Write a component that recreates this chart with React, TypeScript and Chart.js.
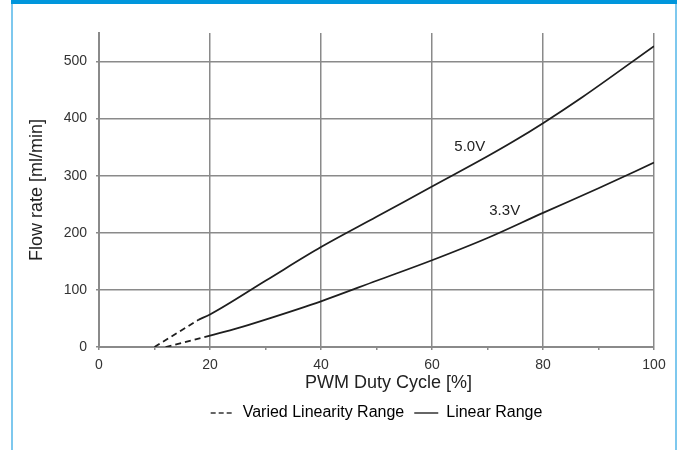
import React, { useEffect, useRef } from 'react';
import { Chart, registerables } from 'chart.js';

Chart.register(...registerables);

const FONT = '"Liberation Sans", Arial, Helvetica, sans-serif';
const GRID = '#8a8a8a';
const INK = '#1e1e1e';

// 5.0V supply
const dutyVaried50 = [10, 18];
const flowVaried50 = [0, 48];
const dutyLinear50 = [18, 20, 30, 40, 50, 60, 70, 75, 80, 87, 100];
const flowLinear50 = [48, 57, 116, 175, 228, 281, 334, 362, 392, 437, 527];

// 3.3V supply
const dutyVaried33 = [12, 20];
const flowVaried33 = [0, 20];
const dutyLinear33 = [20, 25, 30, 40, 50, 60, 70, 80, 90, 100];
const flowLinear33 = [20, 33, 48, 80, 116, 152, 191, 235, 278, 323];

// curve labels (data coordinates)
const curveLabels = ['5.0V', '3.3V'];
const curveLabelDuty = [66.8, 73.1];
const curveLabelFlow = [351, 238];

const legendTexts = ['Varied Linearity Range', 'Linear Range'];
const xTitle = 'PWM Duty Cycle [%]';
const yTitle = 'Flow rate [ml/min]';

const toXY = (xs: number[], ys: number[]) => xs.map((x, i) => ({ x, y: ys[i] }));

export default function App() {
  const ref = useRef<HTMLCanvasElement>(null);

  useEffect(() => {
    const canvas = ref.current;
    if (!canvas) return;

    const labelPlugin = {
      id: 'curveLabels',
      afterDatasetsDraw(chart: any) {
        const { ctx, scales, chartArea } = chart;
        const x = scales.x;
        const y = scales.y;
        ctx.save();
        ctx.fillStyle = '#222';
        ctx.textAlign = 'center';
        ctx.textBaseline = 'middle';
        ctx.font = `15px ${FONT}`;
        curveLabels.forEach((t, i) => {
          ctx.fillText(t, x.getPixelForValue(curveLabelDuty[i]), y.getPixelForValue(curveLabelFlow[i]));
        });
        ctx.font = `18px ${FONT}`;
        ctx.fillText(xTitle, (chartArea.left + chartArea.right) / 2 + 12, x.bottom - 12);
        ctx.restore();
      },
    };

    const lineDs = (data: any[], dashed: boolean) => ({
      data,
      borderColor: INK,
      borderWidth: 1.8,
      borderDash: dashed ? [6, 4] : [],
      pointRadius: 0,
      fill: false,
      cubicInterpolationMode: 'monotone' as const,
    });

    const chart = new Chart(canvas, {
      type: 'line',
      data: {
        datasets: [
          lineDs(toXY(dutyVaried50, flowVaried50), true),
          lineDs(toXY(dutyLinear50, flowLinear50), false),
          lineDs(toXY(dutyVaried33, flowVaried33), true),
          lineDs(toXY(dutyLinear33, flowLinear33), false),
        ],
      },
      options: {
        responsive: false,
        animation: false,
        layout: { padding: { left: 22, right: 28, top: 33, bottom: 19 } },
        plugins: {
          tooltip: { enabled: false },
          legend: {
            position: 'bottom',
            fullSize: false,
            labels: {
              usePointStyle: true,
              pointStyleWidth: 24,
              boxWidth: 24,
              boxHeight: 10,
              padding: 10,
              color: '#222',
              font: { family: FONT, size: 16 },
              generateLabels: () =>
                legendTexts.map((t, i) => ({
                  text: t,
                  fillStyle: 'rgba(0,0,0,0)',
                  strokeStyle: '#333',
                  lineWidth: 1.5,
                  lineDash: i === 0 ? [5, 3] : [],
                  pointStyle: 'line',
                  hidden: false,
                  datasetIndex: i,
                })),
            },
          },
        },
        scales: {
          x: {
            type: 'linear',
            min: 0,
            max: 100,
            afterFit: (s: any) => {
              s.height = 48;
            },
            ticks: {
              stepSize: 10,
              padding: 7,
              color: '#333',
              autoSkip: false,
              maxRotation: 0,
              font: { family: FONT, size: 14 },
              callback: (v: any) => (Number(v) % 20 === 0 ? String(v) : ''),
            },
            grid: {
              color: (c: any) => (c.tick && c.tick.value % 20 === 0 ? GRID : 'rgba(0,0,0,0)'),
              tickColor: GRID,
              tickLength: 3,
              lineWidth: 1.5,
            },
            border: { color: GRID, width: 2 },
          },
          y: {
            min: 0,
            max: 550,
            afterFit: (s: any) => {
              s.width = 77;
            },
            ticks: {
              stepSize: 100,
              includeBounds: false,
              padding: 9,
              color: '#333',
              font: { family: FONT, size: 14 },
            },
            grid: { color: GRID, tickLength: 3, lineWidth: 1.5 },
            border: { color: GRID, width: 2 },
            title: {
              display: true,
              text: yTitle,
              color: '#222',
              font: { family: FONT, size: 18 },
              padding: { top: 4, bottom: 0 },
            },
          },
        },
      },
      plugins: [labelPlugin],
    } as any);

    return () => chart.destroy();
  }, []);

  return (
    <div
      style={{
        position: 'fixed',
        left: 0,
        top: 0,
        width: 682,
        height: 450,
        background: '#fff',
        overflow: 'hidden',
      }}
    >
      <canvas ref={ref} width={682} height={450} style={{ position: 'absolute', left: 0, top: 0 }} />
      <div style={{ position: 'absolute', left: 11, top: 0, width: 2, height: 450, background: '#7ec8ee' }} />
      <div style={{ position: 'absolute', left: 675, top: 0, width: 2, height: 450, background: '#7ec8ee' }} />
      <div style={{ position: 'absolute', left: 11, top: 0, width: 666, height: 4, background: '#0096dc' }} />
    </div>
  );
}
